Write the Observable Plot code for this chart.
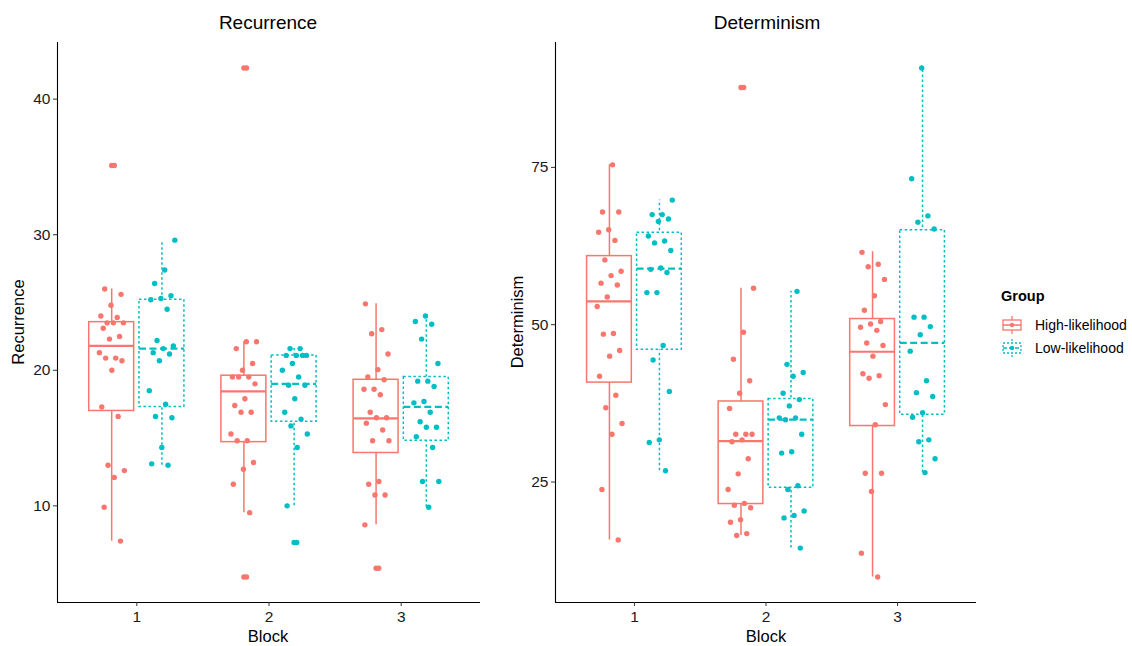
<!DOCTYPE html>
<html>
<head>
<meta charset="utf-8">
<script src="https://cdn.jsdelivr.net/npm/d3@7"></script>
<script src="https://cdn.jsdelivr.net/npm/@observablehq/plot@0.6"></script>
<style>
  html, body { margin: 0; padding: 0; background: #fff; }
  #wrap { position: relative; width: 1132px; height: 646px; overflow: hidden; font-family: "Liberation Sans", Arial, sans-serif; color: #000; }
  .panel { position: absolute; top: 0; }
  .title { position: absolute; font-size: 19px; transform: translateX(-50%); white-space: nowrap; }
  .xlab { position: absolute; font-size: 16.5px; transform: translateX(-50%); white-space: nowrap; }
  .ylab { position: absolute; font-size: 16.5px; transform: translate(-50%, -50%) rotate(-90deg); white-space: nowrap; }
  #legend { position: absolute; left: 1001px; top: 288px; font-size: 14px; }
  #legend .head { font-weight: bold; font-size: 14.5px; margin-bottom: 9px; }
  #legend .item { display: flex; align-items: center; height: 23px; }
  #legend svg { margin-right: 12px; }
</style>
</head>
<body>
<div id="wrap">
  <div id="left" class="panel" style="left:0px"></div>
  <div id="right" class="panel" style="left:490px"></div>
  <div class="title" style="left:268px; top:12px">Recurrence</div>
  <div class="title" style="left:767px; top:12px">Determinism</div>
  <div class="xlab" style="left:268px; top:627px">Block</div>
  <div class="xlab" style="left:766px; top:627px">Block</div>
  <div class="ylab" style="left:18px; top:322px">Recurrence</div>
  <div class="ylab" style="left:517px; top:322px">Determinism</div>
  <div id="legend"></div>
</div>
<script>
// ---- categories ----
const blocks = [1, 2, 3];
const groups = ["High-likelihood", "Low-likelihood"];
const groupColors = ["#F8766D", "#00BFC4"];

// ---- Recurrence: individual values ----
const recHigh1 = [35.1, 26.0, 25.6, 24.8, 24.0, 23.9, 23.5, 23.5, 23.5, 23.1, 22.5, 22.3, 21.3, 20.9, 20.9, 20.7, 20.0, 17.3, 16.6, 13.0, 12.6, 12.1, 9.9, 7.4];
const recLow1  = [29.6, 27.4, 26.4, 25.5, 25.3, 25.2, 24.5, 22.2, 21.8, 21.6, 21.3, 21.2, 20.7, 18.5, 17.5, 16.6, 16.5, 14.3, 13.1, 13.0];
const recHigh2 = [42.3, 22.1, 22.1, 21.6, 20.5, 20.0, 19.5, 19.5, 19.5, 19.0, 17.9, 17.4, 16.9, 16.9, 15.3, 14.8, 14.8, 13.2, 12.7, 11.6, 9.5, 4.75];
const recLow2  = [21.6, 21.6, 21.1, 21.1, 21.1, 21.1, 20.5, 20.0, 19.5, 18.9, 18.9, 17.9, 16.9, 16.4, 15.9, 15.3, 14.3, 10.0, 7.3];
const recHigh3 = [24.9, 23.0, 22.7, 21.2, 20.05, 19.5, 19.3, 18.6, 18.6, 18.2, 16.9, 16.5, 16.5, 16.1, 15.6, 14.8, 14.8, 11.8, 11.6, 10.8, 10.8, 8.6, 5.4];
const recLow3  = [24.0, 23.6, 23.4, 22.3, 20.5, 19.2, 19.2, 18.8, 17.7, 17.6, 16.9, 16.2, 15.8, 15.8, 15.1, 14.3, 11.8, 11.8, 9.9];

// ---- Recurrence: box summaries, order H1, L1, H2, L2, H3, L3 ----
const recWhiskerLow  = [7.4, 13.0, 9.5, 10.0, 8.6, 9.9];
const recQ1          = [17.0, 17.3, 14.7, 16.2, 13.9, 14.8];
const recMedian      = [21.8, 21.6, 18.45, 19.0, 16.45, 17.3];
const recQ3          = [23.55, 25.2, 19.6, 21.1, 19.3, 19.5];
const recWhiskerHigh = [26.0, 29.6, 22.1, 21.6, 24.9, 24.0];
const recTicks = [10, 20, 30, 40];

// ---- Determinism: individual values ----
const detHigh1 = [75.4, 67.9, 67.9, 65.1, 64.7, 63.4, 60.3, 58.5, 57.8, 56.6, 56.3, 54.4, 52.9, 48.6, 48.5, 45.9, 45.0, 41.8, 38.8, 36.8, 34.3, 32.6, 23.8, 15.8];
const detLow1  = [69.8, 67.5, 67.5, 66.8, 66.4, 64.1, 63.3, 63.0, 61.8, 59.0, 58.8, 58.3, 55.1, 55.1, 46.7, 44.4, 39.4, 31.7, 31.3, 26.8];
const detHigh2 = [87.7, 55.8, 48.8, 44.5, 41.1, 39.1, 36.7, 32.6, 32.6, 32.6, 31.7, 31.4, 28.7, 26.3, 23.8, 21.6, 21.3, 20.9, 19.0, 18.6, 16.8, 16.5];
const detLow2  = [55.3, 43.7, 42.4, 41.8, 39.1, 38.1, 37.1, 35.2, 35.2, 34.9, 32.6, 29.8, 29.6, 24.4, 23.8, 20.4, 19.7, 19.3, 14.5];
const detHigh3 = [61.5, 59.6, 59.2, 57.2, 54.6, 52.3, 50.5, 50.1, 49.6, 49.1, 47.1, 46.7, 45.0, 42.2, 41.9, 41.5, 37.3, 34.1, 26.4, 26.4, 23.5, 13.7, 9.9];
const detLow3  = [90.8, 73.2, 67.3, 66.3, 65.2, 51.2, 51.2, 49.7, 48.4, 45.8, 41.1, 39.2, 38.6, 36.0, 35.3, 31.7, 31.4, 28.7, 26.5];

// ---- Determinism: box summaries, order H1, L1, H2, L2, H3, L3 ----
const detWhiskerLow  = [15.8, 26.8, 16.5, 14.5, 9.9, 26.5];
const detQ1          = [40.8, 46.0, 21.5, 24.1, 33.9, 35.7];
const detMedian      = [53.7, 58.9, 31.5, 34.9, 45.7, 47.1];
const detQ3          = [60.9, 64.6, 37.8, 38.2, 50.9, 65.0];
const detWhiskerHigh = [75.4, 69.8, 55.8, 55.3, 61.6, 90.8];
const detTicks = [25, 50, 75];

// ---- build tables ----
function buildPanel(series, wl, q1, med, q3, wh) {
  const points = [], boxes = [];
  series.forEach((vals, k) => {
    const block = blocks[Math.floor(k / 2)];
    const gi = k % 2;
    boxes.push({block, group: groups[gi], gi, lo: wl[k], q1: q1[k], med: med[k], q3: q3[k], hi: wh[k]});
    vals.forEach((v, i) => points.push({block, group: groups[gi], gi, value: v, i, k,
      outlier: v < wl[k] - 1e-9 || v > wh[k] + 1e-9}));
  });
  return {points, boxes};
}

const DODGE = 0.19, HALF = 0.17, JIT = 0.2;
const cx = d => d.block + (d.gi === 0 ? -DODGE : DODGE);
// deterministic jitter spread (golden-ratio sequence) for the horizontal scatter
const jx = d => cx(d) + (d.outlier ? 0.02 : ((((d.i + 1) * 0.6180339887 + d.k * 0.37) % 1) - 0.5) * JIT);

function drawPanel(el, data, ticks, opts) {
  const {points, boxes} = data;
  const ext = d3.extent(points, d => d.value);
  const pad = (ext[1] - ext[0]) * 0.05;
  const yDom = [ext[0] - pad, ext[1] + pad];
  const xDom = [0.4, 3.6];
  const marks = [];
  groups.forEach((g, gi) => {
    const bx = boxes.filter(d => d.gi === gi);
    const dashBox = gi === 1 ? "2.5,2.5" : null;
    const dashMed = gi === 1 ? "7,3.5" : null;
    marks.push(Plot.ruleX(bx, {x: cx, y1: "lo", y2: "hi", stroke: groupColors[gi], strokeWidth: 1.5, strokeDasharray: dashBox}));
    marks.push(Plot.rect(bx, {x1: d => cx(d) - HALF, x2: d => cx(d) + HALF, y1: "q1", y2: "q3",
      fill: "white", stroke: groupColors[gi], strokeWidth: 1.5, strokeDasharray: dashBox}));
    marks.push(Plot.ruleY(bx, {x1: d => cx(d) - HALF, x2: d => cx(d) + HALF, y: "med",
      stroke: groupColors[gi], strokeWidth: 2.2, strokeDasharray: dashMed}));
  });
  // outliers at box centre (ggplot draws them in addition to jittered points)
  marks.push(Plot.dot(points.filter(d => d.outlier), {x: cx, y: "value", fill: d => groupColors[d.gi], r: 2.7, stroke: "none"}));
  marks.push(Plot.dot(points, {x: jx, y: "value", fill: d => groupColors[d.gi], r: 2.7, stroke: "none"}));
  // axis lines
  marks.push(Plot.ruleX([xDom[0]], {stroke: "#000", strokeWidth: 1.1}));
  marks.push(Plot.ruleY([yDom[0]], {stroke: "#000", strokeWidth: 1.1}));
  marks.push(Plot.axisY({ticks, tickSize: 4, tickPadding: 3, label: null, fontSize: 15.5, stroke: "#333", fill: "#1a1a1a"}));
  marks.push(Plot.axisX({ticks: blocks, tickFormat: d => String(d), tickSize: 4, tickPadding: 4, label: null, fontSize: 15.5, stroke: "#333", fill: "#1a1a1a"}));
  const chart = Plot.plot({
    width: opts.width, height: 646,
    marginTop: 42, marginBottom: 44, marginLeft: opts.marginLeft, marginRight: opts.marginRight,
    x: {domain: xDom},
    y: {domain: yDom},
    style: {fontFamily: "'Liberation Sans', Arial, sans-serif", fontSize: "15.5px", background: "transparent", color: "#1a1a1a"},
    marks
  });
  el.appendChild(chart);
}

const rec = buildPanel([recHigh1, recLow1, recHigh2, recLow2, recHigh3, recLow3],
  recWhiskerLow, recQ1, recMedian, recQ3, recWhiskerHigh);
const det = buildPanel([detHigh1, detLow1, detHigh2, detLow2, detHigh3, detLow3],
  detWhiskerLow, detQ1, detMedian, detQ3, detWhiskerHigh);

drawPanel(document.getElementById("left"), rec, recTicks, {width: 490, marginLeft: 57, marginRight: 10});
drawPanel(document.getElementById("right"), det, detTicks, {width: 500, marginLeft: 65, marginRight: 14});

// ---- legend ----
const legend = document.getElementById("legend");
legend.innerHTML = '<div class="head">Group</div>' + groups.map((g, gi) => {
  const c = groupColors[gi];
  const dash = gi === 1 ? 'stroke-dasharray="2,2"' : '';
  const mdash = gi === 1 ? 'stroke-dasharray="4,2"' : '';
  return `<div class="item"><svg width="22" height="20" viewBox="0 0 22 20">
    <line x1="11" y1="1" x2="11" y2="19" stroke="${c}" stroke-width="1.3" ${dash}/>
    <rect x="2" y="5" width="18" height="10" fill="white" stroke="${c}" stroke-width="1.3" ${dash}/>
    <line x1="2" y1="10" x2="20" y2="10" stroke="${c}" stroke-width="1.5" ${mdash}/>
    <circle cx="11" cy="10" r="2.2" fill="${c}"/>
  </svg><span>${g}</span></div>`;
}).join("");
</script>
</body>
</html>
